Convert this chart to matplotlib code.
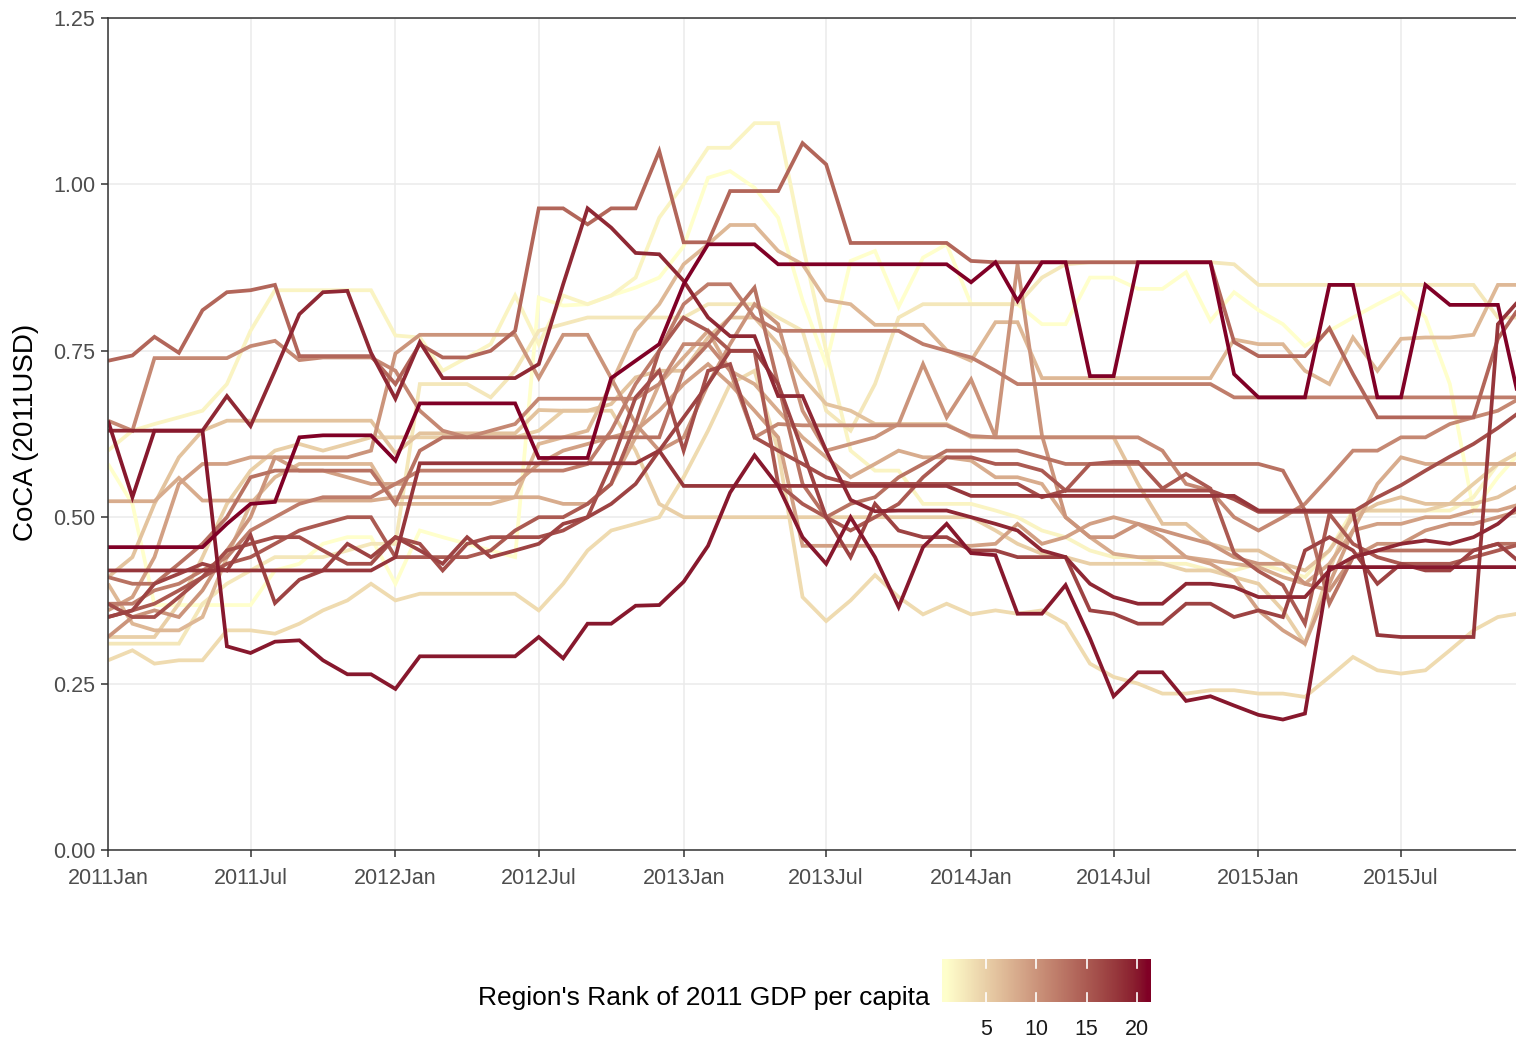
import numpy as np
import pandas as pd
import matplotlib
matplotlib.use("Agg")
import matplotlib.pyplot as plt
from matplotlib.colors import ListedColormap, Normalize

plt.rcParams['font.family'] = ['Liberation Sans', 'DejaVu Sans']

months = pd.date_range("2011-01-01", periods=60, freq="MS")
tick_dates = pd.date_range("2011-01-01", "2015-07-01", freq="6MS")
tick_labels = [d.strftime("%Y%b") for d in tick_dates]

# CoCA by region, one list per region, keyed by its 2011 GDP-per-capita rank
rank_01 = [0.58, 0.52, 0.368, 0.368, 0.368, 0.368, 0.368, 0.42, 0.43, 0.46,
           0.47, 0.47, 0.40, 0.48, 0.47, 0.46, 0.45, 0.44, 0.83, 0.818,
           0.82, 0.833, 0.845, 0.86, 0.907, 1.01, 1.02, 0.995, 0.95, 0.826,
           0.73, 0.885, 0.90, 0.816, 0.89, 0.91, 0.82, 0.82, 0.82, 0.79,
           0.79, 0.86, 0.86, 0.843, 0.843, 0.868, 0.795, 0.838, 0.811, 0.79,
           0.757, 0.78, 0.80, 0.82, 0.838, 0.80, 0.70, 0.51, 0.56, 0.60]
rank_02 = [0.60, 0.63, 0.64, 0.65, 0.66, 0.70, 0.78, 0.841, 0.841, 0.841,
           0.841, 0.841, 0.773, 0.77, 0.72, 0.74, 0.76, 0.833, 0.76, 0.833,
           0.82, 0.833, 0.86, 0.95, 1.0, 1.055, 1.055, 1.092, 1.092, 0.91,
           0.75, 0.60, 0.57, 0.57, 0.52, 0.52, 0.52, 0.51, 0.50, 0.48,
           0.47, 0.45, 0.44, 0.44, 0.43, 0.43, 0.42, 0.42, 0.43, 0.42,
           0.41, 0.45, 0.51, 0.51, 0.51, 0.51, 0.51, 0.53, 0.58, 0.58]
rank_03 = [0.31, 0.31, 0.31, 0.31, 0.37, 0.40, 0.42, 0.44, 0.44, 0.44,
           0.45, 0.46, 0.46, 0.70, 0.70, 0.70, 0.68, 0.72, 0.78, 0.79,
           0.80, 0.80, 0.80, 0.80, 0.80, 0.82, 0.82, 0.82, 0.80, 0.78,
           0.66, 0.63, 0.70, 0.80, 0.82, 0.82, 0.82, 0.82, 0.82, 0.86,
           0.88, 0.883, 0.883, 0.883, 0.883, 0.883, 0.883, 0.88, 0.849, 0.849,
           0.849, 0.849, 0.849, 0.849, 0.849, 0.849, 0.849, 0.849, 0.80, 0.80]
rank_04 = [0.285, 0.30, 0.28, 0.285, 0.285, 0.33, 0.33, 0.325, 0.34, 0.36,
           0.375, 0.40, 0.375, 0.385, 0.385, 0.385, 0.385, 0.385, 0.36, 0.40,
           0.45, 0.48, 0.49, 0.50, 0.56, 0.63, 0.70, 0.72, 0.60, 0.38,
           0.344, 0.375, 0.413, 0.38, 0.354, 0.37, 0.354, 0.36, 0.355, 0.36,
           0.34, 0.28, 0.26, 0.25, 0.235, 0.235, 0.24, 0.24, 0.235, 0.235,
           0.23, 0.26, 0.29, 0.27, 0.265, 0.27, 0.30, 0.33, 0.35, 0.356]
rank_05 = [0.32, 0.32, 0.32, 0.37, 0.44, 0.52, 0.57, 0.60, 0.61, 0.60,
           0.61, 0.62, 0.62, 0.62, 0.62, 0.62, 0.62, 0.62, 0.63, 0.66,
           0.66, 0.66, 0.60, 0.52, 0.50, 0.50, 0.50, 0.50, 0.50, 0.50,
           0.50, 0.50, 0.50, 0.50, 0.50, 0.50, 0.50, 0.48, 0.46, 0.445,
           0.44, 0.43, 0.43, 0.43, 0.43, 0.42, 0.42, 0.41, 0.40, 0.36,
           0.31, 0.42, 0.51, 0.51, 0.51, 0.51, 0.52, 0.55, 0.58, 0.60]
rank_06 = [0.41, 0.44, 0.52, 0.59, 0.63, 0.645, 0.645, 0.645, 0.645, 0.645,
           0.645, 0.645, 0.596, 0.626, 0.626, 0.626, 0.626, 0.626, 0.661, 0.66,
           0.66, 0.67, 0.71, 0.72, 0.72, 0.77, 0.80, 0.80, 0.76, 0.71,
           0.67, 0.66, 0.64, 0.64, 0.64, 0.64, 0.62, 0.62, 0.62, 0.62,
           0.62, 0.62, 0.62, 0.55, 0.49, 0.49, 0.46, 0.45, 0.45, 0.43,
           0.42, 0.45, 0.50, 0.52, 0.53, 0.52, 0.52, 0.52, 0.53, 0.55]
rank_07 = [0.40, 0.34, 0.33, 0.33, 0.35, 0.44, 0.52, 0.56, 0.58, 0.58,
           0.58, 0.58, 0.52, 0.52, 0.52, 0.52, 0.52, 0.53, 0.61, 0.62,
           0.63, 0.70, 0.78, 0.82, 0.88, 0.91, 0.939, 0.939, 0.90, 0.88,
           0.826, 0.82, 0.789, 0.789, 0.789, 0.751, 0.735, 0.793, 0.793, 0.709,
           0.709, 0.709, 0.709, 0.709, 0.709, 0.709, 0.709, 0.767, 0.76, 0.76,
           0.72, 0.70, 0.77, 0.72, 0.768, 0.77, 0.77, 0.774, 0.849, 0.849]
rank_08 = [0.524, 0.524, 0.524, 0.559, 0.525, 0.525, 0.525, 0.525, 0.525, 0.525,
           0.525, 0.525, 0.53, 0.53, 0.53, 0.53, 0.53, 0.53, 0.53, 0.52,
           0.52, 0.55, 0.62, 0.70, 0.74, 0.78, 0.72, 0.70, 0.66, 0.62,
           0.59, 0.56, 0.58, 0.60, 0.59, 0.59, 0.585, 0.56, 0.56, 0.55,
           0.50, 0.47, 0.445, 0.44, 0.44, 0.44, 0.435, 0.43, 0.425, 0.41,
           0.40, 0.43, 0.48, 0.55, 0.59, 0.58, 0.58, 0.58, 0.58, 0.58]
rank_09 = [0.36, 0.38, 0.44, 0.55, 0.58, 0.58, 0.59, 0.59, 0.57, 0.57,
           0.56, 0.55, 0.55, 0.55, 0.55, 0.55, 0.55, 0.55, 0.58, 0.60,
           0.61, 0.62, 0.63, 0.66, 0.70, 0.73, 0.70, 0.66, 0.62, 0.457,
           0.457, 0.457, 0.457, 0.457, 0.457, 0.457, 0.457, 0.46, 0.49, 0.46,
           0.47, 0.49, 0.50, 0.49, 0.47, 0.44, 0.43, 0.41, 0.36, 0.33,
           0.31, 0.40, 0.48, 0.49, 0.49, 0.50, 0.50, 0.51, 0.51, 0.52]
rank_10 = [0.32, 0.35, 0.36, 0.35, 0.39, 0.45, 0.50, 0.59, 0.59, 0.59,
           0.59, 0.60, 0.746, 0.774, 0.774, 0.774, 0.774, 0.774, 0.709, 0.774,
           0.774, 0.709, 0.64, 0.60, 0.62, 0.70, 0.76, 0.82, 0.79, 0.66,
           0.60, 0.61, 0.62, 0.64, 0.73, 0.65, 0.707, 0.62, 0.88, 0.623,
           0.50, 0.47, 0.47, 0.49, 0.48, 0.47, 0.46, 0.44, 0.43, 0.43,
           0.40, 0.39, 0.44, 0.46, 0.46, 0.48, 0.49, 0.49, 0.50, 0.51]
rank_11 = [0.645, 0.63, 0.739, 0.739, 0.739, 0.739, 0.757, 0.765, 0.736, 0.74,
           0.74, 0.74, 0.72, 0.66, 0.63, 0.62, 0.63, 0.64, 0.678, 0.678,
           0.678, 0.678, 0.678, 0.70, 0.76, 0.76, 0.72, 0.62, 0.64, 0.638,
           0.638, 0.638, 0.638, 0.638, 0.638, 0.638, 0.622, 0.62, 0.62, 0.62,
           0.62, 0.62, 0.62, 0.62, 0.60, 0.55, 0.54, 0.50, 0.48, 0.50,
           0.52, 0.56, 0.60, 0.60, 0.62, 0.62, 0.64, 0.65, 0.66, 0.68]
rank_12 = [0.37, 0.37, 0.39, 0.40, 0.42, 0.44, 0.48, 0.50, 0.52, 0.53,
           0.53, 0.53, 0.55, 0.57, 0.57, 0.57, 0.57, 0.57, 0.57, 0.57,
           0.58, 0.63, 0.70, 0.75, 0.82, 0.85, 0.85, 0.80, 0.78, 0.78,
           0.78, 0.78, 0.78, 0.78, 0.76, 0.75, 0.74, 0.72, 0.70, 0.70,
           0.70, 0.70, 0.70, 0.70, 0.70, 0.70, 0.70, 0.68, 0.68, 0.68,
           0.68, 0.68, 0.68, 0.68, 0.68, 0.68, 0.68, 0.68, 0.68, 0.68]
rank_13 = [0.41, 0.40, 0.40, 0.43, 0.46, 0.50, 0.56, 0.57, 0.57, 0.57,
           0.57, 0.57, 0.52, 0.60, 0.62, 0.62, 0.62, 0.62, 0.62, 0.62,
           0.62, 0.62, 0.62, 0.62, 0.72, 0.76, 0.80, 0.845, 0.70, 0.55,
           0.50, 0.52, 0.53, 0.56, 0.58, 0.60, 0.60, 0.60, 0.60, 0.59,
           0.58, 0.58, 0.58, 0.58, 0.58, 0.58, 0.58, 0.58, 0.58, 0.57,
           0.51, 0.37, 0.44, 0.45, 0.45, 0.45, 0.45, 0.45, 0.46, 0.46]
rank_14 = [0.735, 0.743, 0.771, 0.747, 0.811, 0.838, 0.841, 0.849, 0.742, 0.742,
           0.742, 0.742, 0.70, 0.76, 0.74, 0.74, 0.75, 0.78, 0.964, 0.964,
           0.94, 0.964, 0.964, 1.05, 0.913, 0.913, 0.99, 0.99, 0.99, 1.062,
           1.03, 0.912, 0.912, 0.912, 0.912, 0.912, 0.885, 0.883, 0.883, 0.883,
           0.883, 0.883, 0.883, 0.883, 0.883, 0.883, 0.883, 0.763, 0.742, 0.742,
           0.742, 0.784, 0.715, 0.65, 0.65, 0.65, 0.65, 0.65, 0.768, 0.82]
rank_15 = [0.35, 0.36, 0.37, 0.39, 0.41, 0.43, 0.44, 0.46, 0.48, 0.49,
           0.50, 0.50, 0.44, 0.44, 0.44, 0.44, 0.45, 0.48, 0.50, 0.50,
           0.52, 0.55, 0.64, 0.75, 0.80, 0.78, 0.75, 0.75, 0.55, 0.52,
           0.50, 0.48, 0.50, 0.52, 0.56, 0.59, 0.59, 0.58, 0.58, 0.57,
           0.54, 0.58, 0.583, 0.583, 0.543, 0.565, 0.543, 0.446, 0.419, 0.398,
           0.34, 0.505, 0.46, 0.44, 0.43, 0.43, 0.43, 0.44, 0.45, 0.46]
rank_16 = [0.37, 0.35, 0.35, 0.38, 0.41, 0.45, 0.46, 0.47, 0.47, 0.45,
           0.43, 0.43, 0.47, 0.46, 0.42, 0.46, 0.47, 0.47, 0.47, 0.48,
           0.50, 0.58, 0.68, 0.72, 0.60, 0.72, 0.73, 0.62, 0.60, 0.58,
           0.56, 0.55, 0.55, 0.55, 0.55, 0.55, 0.55, 0.55, 0.55, 0.53,
           0.54, 0.54, 0.54, 0.54, 0.54, 0.54, 0.54, 0.527, 0.508, 0.508,
           0.508, 0.508, 0.508, 0.53, 0.548, 0.57, 0.591, 0.61, 0.634, 0.66]
rank_17 = [0.35, 0.36, 0.40, 0.415, 0.43, 0.42, 0.473, 0.371, 0.406, 0.42,
           0.46, 0.44, 0.47, 0.45, 0.43, 0.47, 0.44, 0.45, 0.46, 0.49,
           0.50, 0.52, 0.55, 0.60, 0.65, 0.70, 0.75, 0.75, 0.70, 0.60,
           0.50, 0.44, 0.52, 0.48, 0.47, 0.47, 0.45, 0.45, 0.44, 0.44,
           0.44, 0.36, 0.355, 0.34, 0.34, 0.37, 0.37, 0.35, 0.36, 0.35,
           0.45, 0.47, 0.45, 0.40, 0.43, 0.42, 0.42, 0.45, 0.46, 0.43]
rank_18 = [0.42, 0.42, 0.42, 0.42, 0.42, 0.42, 0.42, 0.42, 0.42, 0.42,
           0.42, 0.42, 0.44, 0.581, 0.581, 0.581, 0.581, 0.581, 0.581, 0.581,
           0.581, 0.581, 0.581, 0.60, 0.547, 0.547, 0.547, 0.547, 0.547, 0.547,
           0.547, 0.547, 0.547, 0.547, 0.547, 0.547, 0.532, 0.532, 0.532, 0.532,
           0.532, 0.532, 0.532, 0.532, 0.532, 0.532, 0.532, 0.532, 0.51, 0.51,
           0.51, 0.51, 0.51, 0.323, 0.32, 0.32, 0.32, 0.32, 0.79, 0.83]
rank_19 = [0.63, 0.63, 0.63, 0.63, 0.63, 0.682, 0.637, 0.72, 0.805, 0.838,
           0.84, 0.747, 0.678, 0.763, 0.709, 0.709, 0.709, 0.709, 0.73, 0.85,
           0.964, 0.935, 0.897, 0.895, 0.855, 0.80, 0.772, 0.772, 0.682, 0.682,
           0.60, 0.526, 0.509, 0.51, 0.51, 0.51, 0.50, 0.49, 0.48, 0.45,
           0.44, 0.40, 0.38, 0.37, 0.37, 0.40, 0.40, 0.395, 0.38, 0.38,
           0.38, 0.42, 0.44, 0.45, 0.46, 0.465, 0.46, 0.47, 0.49, 0.52]
rank_20 = [0.645, 0.53, 0.63, 0.63, 0.63, 0.306, 0.296, 0.313, 0.315, 0.285,
           0.264, 0.264, 0.242, 0.291, 0.291, 0.291, 0.291, 0.291, 0.32, 0.288,
           0.34, 0.34, 0.367, 0.368, 0.403, 0.457, 0.537, 0.593, 0.547, 0.47,
           0.43, 0.50, 0.44, 0.365, 0.455, 0.49, 0.446, 0.443, 0.355, 0.355,
           0.398, 0.318, 0.231, 0.267, 0.267, 0.224, 0.231, 0.217, 0.203, 0.196,
           0.205, 0.425, 0.425, 0.425, 0.425, 0.425, 0.425, 0.425, 0.425, 0.425]
rank_21 = [0.455, 0.455, 0.455, 0.455, 0.455, 0.49, 0.52, 0.523, 0.62, 0.623,
           0.623, 0.623, 0.585, 0.671, 0.671, 0.671, 0.671, 0.671, 0.589, 0.589,
           0.589, 0.709, 0.735, 0.76, 0.85, 0.91, 0.91, 0.91, 0.88, 0.88,
           0.88, 0.88, 0.88, 0.88, 0.88, 0.88, 0.853, 0.883, 0.825, 0.883,
           0.883, 0.712, 0.712, 0.883, 0.883, 0.883, 0.883, 0.715, 0.68, 0.68,
           0.68, 0.849, 0.849, 0.68, 0.68, 0.849, 0.819, 0.819, 0.819, 0.66]

series = [rank_01, rank_02, rank_03, rank_04, rank_05, rank_06, rank_07,
          rank_08, rank_09, rank_10, rank_11, rank_12, rank_13, rank_14,
          rank_15, rank_16, rank_17, rank_18, rank_19, rank_20, rank_21]
ranks = list(range(1, 22))


# colour gradient interpolated in CIELAB between the two end colours
WHITE = np.array([0.95047, 1.0, 1.08883])
M = np.array([[0.4124, 0.3576, 0.1805],
              [0.2126, 0.7152, 0.0722],
              [0.0193, 0.1192, 0.9505]])


def to_lab(hexcol):
    rgb = np.array([int(hexcol[i:i + 2], 16) / 255 for i in (1, 3, 5)])
    lin = np.where(rgb <= 0.04045, rgb / 12.92, ((rgb + 0.055) / 1.055) ** 2.4)
    xyz = M @ lin / WHITE
    f = np.where(xyz > 0.008856, np.cbrt(xyz), 7.787 * xyz + 16 / 116)
    return np.array([116 * f[1] - 16, 500 * (f[0] - f[1]), 200 * (f[1] - f[2])])


def from_lab(lab):
    fy = (lab[0] + 16) / 116
    f = np.array([fy + lab[1] / 500, fy, fy - lab[2] / 200])
    xyz = np.where(f ** 3 > 0.008856, f ** 3, (f - 16 / 116) / 7.787) * WHITE
    lin = np.clip(np.linalg.solve(M, xyz), 0, 1)
    rgb = np.where(lin <= 0.0031308, 12.92 * lin, 1.055 * lin ** (1 / 2.4) - 0.055)
    return np.clip(rgb, 0, 1)


low, high = to_lab("#FFFFCC"), to_lab("#800026")
cmap = ListedColormap([from_lab(low + t * (high - low)) for t in np.linspace(0, 1, 256)])
norm = Normalize(1, 21)

fig = plt.figure(figsize=(15.16, 10.37), dpi=100)
ax = fig.add_axes([108 / 1516, 1 - 850 / 1037, 1 - 108 / 1516, (850 - 18) / 1037])

for r, vals in zip(ranks, series):
    ax.plot(months, vals, color=cmap(norm(r)), lw=2.7, solid_joinstyle="miter",
            solid_capstyle="butt", zorder=2 + r / 100)

ax.set_xlim(pd.Timestamp("2011-01-01"), pd.Timestamp("2015-11-24"))
ax.set_ylim(0, 1.25)
ax.set_yticks([0, 0.25, 0.5, 0.75, 1.0, 1.25])
ax.set_yticklabels(["0.00", "0.25", "0.50", "0.75", "1.00", "1.25"])
ax.set_xticks(tick_dates)
ax.set_xticklabels(tick_labels)
ax.grid(True, color="#EBEBEB", lw=1.1, zorder=0)
ax.set_axisbelow(True)
ax.tick_params(axis="both", colors="#333333", labelcolor="#4D4D4D",
               labelsize=15.5, length=5, width=1.1)
ax.tick_params(axis="x", pad=8)
ax.tick_params(axis="y", pad=4)
for side in ["left", "top", "bottom"]:
    ax.spines[side].set_color("#333333")
    ax.spines[side].set_linewidth(1.1)
ax.spines["right"].set_visible(False)

fig.text(26 / 1516, 1 - 432 / 1037, "CoCA (2011USD)", rotation=90,
         ha="center", va="center", fontsize=20)

# horizontal colour bar legend
cax = fig.add_axes([942 / 1516, 1 - 1002 / 1037, 208 / 1516, 43 / 1037])
lo, hi = 0.65, 21.3
grad = np.linspace(lo, hi, 300)[None, :]
cax.imshow(grad, cmap=cmap, norm=norm, aspect="auto", extent=[lo, hi, 0, 1])
cax.set_xlim(lo, hi)
cax.set_ylim(0, 1)
for t in [5, 10, 15, 20]:
    cax.plot([t, t], [0, 0.2], color="white", lw=1.2)
    cax.plot([t, t], [0.8, 1], color="white", lw=1.2)
cax.set_xticks([5, 10, 15, 20])
cax.set_yticks([])
cax.tick_params(axis="x", length=0, labelsize=15.5, labelcolor="#1A1A1A", pad=12)
for s in cax.spines.values():
    s.set_visible(False)

fig.text(930 / 1516, 1 - 998 / 1037, "Region's Rank of 2011 GDP per capita",
         ha="right", va="center", fontsize=19)

fig.savefig("out.png", dpi=100)
